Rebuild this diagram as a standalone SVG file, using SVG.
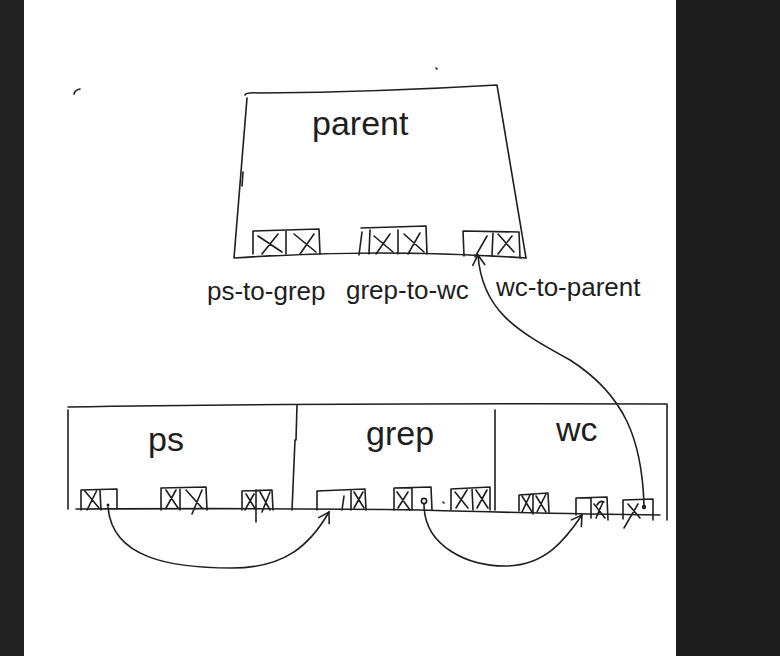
<svg xmlns="http://www.w3.org/2000/svg" width="780" height="656" viewBox="0 0 780 656">
<defs>
<style>
.s{fill:none;stroke:#1e1e1e;stroke-width:1.6;stroke-linecap:round;stroke-linejoin:round}
.t{font-family:"Liberation Sans",Arial,sans-serif;fill:#1e1e1e}
.big{font-size:34px}
.lbl{font-size:26px}
</style>
<marker id="ah" markerWidth="16" markerHeight="16" refX="12" refY="8" orient="auto" markerUnits="userSpaceOnUse">
<path d="M2,2 L12,8 L2,14" fill="none" stroke="#1e1e1e" stroke-width="1.6" stroke-linecap="round"/>
</marker>
</defs>
<rect x="0" y="0" width="780" height="656" fill="#ffffff"/>
<rect x="0" y="0" width="24" height="656" fill="#222222"/>
<rect x="676" y="0" width="104" height="656" fill="#1c1c1c"/>

<!-- stray marks -->
<path class="s" d="M80,89 Q75,90 74,94"/>
<path class="s" d="M436,68 L437,69"/>

<g id="parent">
<path class="s" d="M245,95 Q246,92 260,93 Q380,92 497,85 L526,258"/>
<path class="s" d="M247,98 L234,258 Q380,248 526,258"/>
<path class="s" d="M243,172 L242,186"/>
<text class="t big" x="312" y="135">parent</text>
<!-- port 1 -->
<path class="s" d="M253,254 L253,231 L319,229 L320,254 M286,230 L286,254 M258,236 L282,252 M278,234 L262,254 M294,234 L316,252 M314,234 L300,254"/>
<!-- port 2 -->
<path class="s" d="M361,228 L426,226 L427,254 M362,232 L359,255 M370,230 L369,254 M374,236 L393,252 M390,234 L376,254 M398,230 L398,254 M404,234 L424,252 M420,233 L408,254"/>
<!-- port 3 -->
<path class="s" d="M464,256 L463,231 L519,232 L520,258 M493,232 L492,256 M498,234 L514,252 M512,236 L498,254 M475,257 L487,236"/>
</g>
<text class="t lbl" x="207" y="300">ps-to-grep</text>
<text class="t lbl" x="346" y="299">grep-to-wc</text>
<text class="t lbl" x="496" y="296">wc-to-parent</text>

<g id="procs-frame">
<path class="s" d="M68,407 Q300,403 667,404 L667,520"/>
<path class="s" d="M68,410 L68,509"/>
<path class="s" d="M76,509 Q300,508 420,510 Q560,514 660,515"/>
</g>
<g id="ps">
<path class="s" d="M297,405 L296,440 M295,440 L292,510"/>
<text class="t big" x="148" y="451">ps</text>
<path class="s" d="M81,510 L81,490 L117,489 L117,509 M100,490 L101,510 M84,490 L99,508 M97,490 L87,510"/>
<circle cx="108" cy="505" r="1.5" fill="#1e1e1e"/>
<path class="s" d="M161,510 L161,488 L206,487 L207,510 M180,488 L180,510 M166,490 L178,508 M176,490 L166,508 M186,490 L202,508 M202,490 L192,514"/>
<path class="s" d="M242,510 L242,491 L272,490 L273,510 M256,490 L256,522 M246,494 L256,510 M254,494 L245,510 M260,492 L270,510 M270,492 L262,512"/>
</g>
<g id="grep">
<path class="s" d="M495,410 L495,510"/>
<text class="t big" x="366" y="445">grep</text>
<path class="s" d="M317,510 L317,491 L365,489 L366,510 M351,490 L351,510 M342,510 L344,496 M354,492 L364,508 M363,492 L354,508"/>
<path class="s" d="M394,510 L394,488 L431,487 L432,510 M412,488 L412,510 M397,492 L410,510 M408,492 L398,508"/>
<circle cx="424" cy="501" r="2.6" fill="none" stroke="#1e1e1e" stroke-width="1.6"/>
<path class="s" d="M443,502 L444,503"/>
<path class="s" d="M451,510 L451,489 L490,487 L490,510 M472,488 L473,510 M455,492 L468,508 M467,490 L456,508 M476,490 L488,508 M487,490 L477,508"/>
</g>
<g id="wc">
<text class="t big" x="556" y="441">wc</text>
<path class="s" d="M519,511 L519,495 L548,493 L549,513 M533,494 L533,514 M522,496 L532,512 M530,495 L522,512 M536,496 L546,512 M546,494 L537,512"/>
<path class="s" d="M576,515 L576,498 L607,497 L608,520 M591,498 L591,518 M594,504 L605,518 M597,505 Q600,500 604,502 M603,502 L596,518"/>
<path class="s" d="M623,519 L623,500 L653,499 L653,520 M628,504 L640,518 M638,504 L624,528"/>
<circle cx="644" cy="507" r="2.2" fill="#1e1e1e"/>
</g>

<g id="connectors">
<path class="s" d="M108,507 C112,558 170,568 232,568 C285,568 310,545 329,512" marker-end="url(#ah)"/>
<path class="s" d="M424,504 C424,548 470,566 505,566 C545,566 565,540 582,515" marker-end="url(#ah)"/>
<path class="s" d="M644,505 C642,440 625,395 570,360 C515,330 482,310 478,255" marker-end="url(#ah)"/>
</g>
</svg>
